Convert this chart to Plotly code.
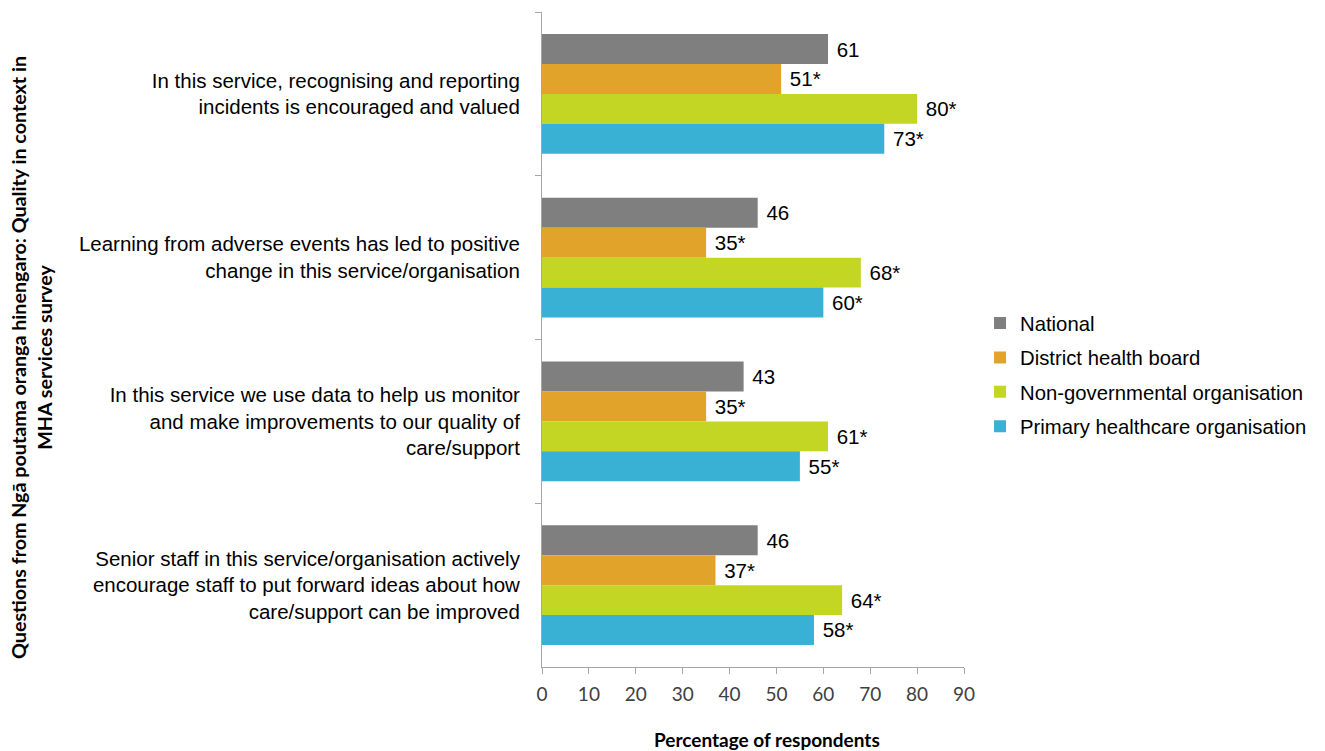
import plotly.graph_objects as go

categories = [
    "In this service, recognising and reporting<br>incidents is encouraged and valued",
    "Learning from adverse events has led to positive<br>change in this service/organisation",
    "In this service we use data to help us monitor<br>and make improvements to our quality of<br>care/support",
    "Senior staff in this service/organisation actively<br>encourage staff to put forward ideas about how<br>care/support can be improved",
]
series_names = ["National", "District health board", "Non-governmental organisation", "Primary healthcare organisation"]
national = [61, 46, 43, 46]
dhb = [51, 35, 35, 37]
ngo = [80, 68, 61, 64]
pho = [73, 60, 55, 58]
significant = [
    [False, False, False, False],
    [True, True, True, True],
    [True, True, True, True],
    [True, True, True, True],
]
x_ticks = [0, 10, 20, 30, 40, 50, 60, 70, 80, 90]
colors = ["#7F7F7F", "#E1A32A", "#C3D624", "#39B1D4"]

fig = go.Figure()
for i, (name, vals) in enumerate(zip(series_names, [national, dhb, ngo, pho])):
    labels = [f"\u00a0{v}{'*' if s else ''}" for v, s in zip(vals, significant[i])]
    fig.add_trace(go.Bar(
        y=categories, x=vals, name=name, orientation="h",
        marker=dict(color=colors[i], line=dict(width=0)),
        text=labels, textposition="outside", cliponaxis=False,
        textfont=dict(family="Liberation Sans, Arial", size=20.5, color="#000000"),
        legendgroup=name,
    ))

fig.update_layout(
    width=1325, height=751,
    margin=dict(l=542, r=361, t=12, b=84),
    paper_bgcolor="white", plot_bgcolor="white",
    barmode="group", bargap=0.27, bargroupgap=0,
    font=dict(family="Liberation Sans, Arial", size=20.5, color="#000000"),
    showlegend=True,
    legend=dict(
        x=1.038, xanchor="left", y=0.446, yanchor="middle",
        font=dict(family="Liberation Sans, Arial", size=20.3, color="#000000"),
        tracegroupgap=5, bgcolor="rgba(0,0,0,0)",
    ),
)
fig.update_xaxes(
    range=[0, 90], tickvals=x_ticks, ticktext=[str(t) for t in x_ticks],
    showgrid=False, zeroline=False,
    showline=True, linecolor="#A6A6A6", linewidth=1,
    ticks="outside", ticklen=6, tickcolor="#A6A6A6",
    tickfont=dict(family="Lato", size=19, color="#404040"),
    ticklabelstandoff=4,
)
fig.update_yaxes(
    autorange="reversed", showgrid=False, zeroline=False,
    showline=True, linecolor="#A6A6A6", linewidth=1,
    ticks="outside", ticklen=6, tickcolor="#A6A6A6", tickson="boundaries",
    tickfont=dict(family="Liberation Sans, Arial", size=20.5, color="#000000"),
    ticklabelstandoff=17,
)
fig.add_annotation(
    text="Percentage of respondents", xref="paper", yref="paper",
    x=0.533, y=-0.111, xanchor="center", yanchor="middle", showarrow=False,
    font=dict(family="Lato", size=19, color="#000000", weight="bold"),
)
fig.add_annotation(
    text="Questions from Ngā poutama oranga hinengaro: Quality in context in<br>MHA services survey",
    xref="paper", yref="paper", x=(32 - 542) / 422, y=(667 - 358) / 655,
    xanchor="center", yanchor="middle", textangle=-90, showarrow=False,
    font=dict(family="Lato", size=19.7, color="#000000", weight="bold"),
)
fig.write_html("out.html")
